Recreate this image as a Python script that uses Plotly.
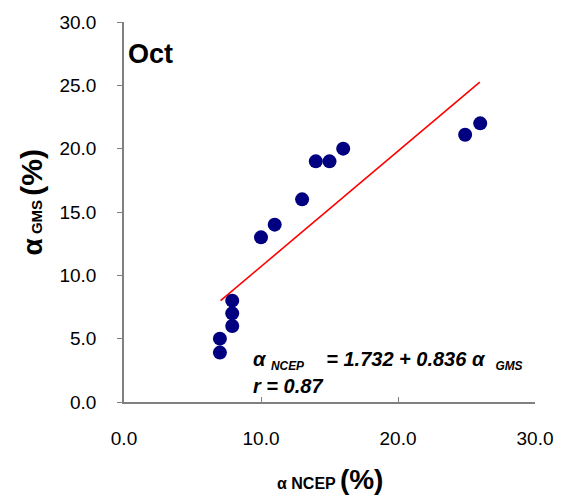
import plotly.graph_objects as go

# Data
alpha_ncep = [7.0, 7.0, 7.9, 7.9, 7.9, 10.0, 11.0, 13.0, 14.0, 15.0, 16.0, 24.9, 26.0]
alpha_gms = [3.9, 5.0, 8.0, 7.0, 6.0, 13.0, 14.0, 16.0, 19.0, 19.0, 20.0, 21.1, 22.0]

# Trend line end points (as drawn)
trend_x = [7.05, 25.97]
trend_y = [8.0, 25.26]

x_ticks = [0, 10, 20, 30]
y_ticks = [0, 5, 10, 15, 20, 25, 30]

FONT = "Liberation Sans, Arial, sans-serif"

fig = go.Figure()
fig.add_trace(go.Scatter(x=trend_x, y=trend_y, mode="lines",
                         line=dict(color="#ff0000", width=1.6), showlegend=False))
fig.add_trace(go.Scatter(x=alpha_ncep, y=alpha_gms, mode="markers",
                         marker=dict(color="#000080", size=14, line=dict(width=0)),
                         showlegend=False))

axis_common = dict(showgrid=False, zeroline=False, showline=True,
                   linecolor="#808080", linewidth=1.5, tickcolor="#808080",
                   ticklen=5, tickwidth=1, tickformat=".1f",
                   tickfont=dict(family=FONT, size=19, color="#000000"))

fig.update_xaxes(range=[0, 30], tickvals=x_ticks, ticks="inside",
                 ticklabelstandoff=18, **axis_common)
fig.update_yaxes(range=[0, 30], tickvals=y_ticks, ticks="outside",
                 ticklabelstandoff=17, **axis_common)

fig.update_layout(
    width=565, height=495,
    margin=dict(l=124, r=26, t=22, b=93),
    plot_bgcolor="white", paper_bgcolor="white",
    font=dict(family=FONT, color="#000000"),
    annotations=[
        dict(text="<b>Oct</b>", x=0.005, y=0.915, xref="paper", yref="paper",
             xanchor="left", yanchor="middle", showarrow=False,
             font=dict(size=27, family=FONT)),
        dict(text="<b><i>α <span style='font-size:17px'><sub>NCEP</sub></span>    = 1.732 + 0.836 α  <span style='font-size:17px'><sub>GMS</sub></span></i></b>",
             x=9.3, y=3.3, xref="x", yref="y", xanchor="left", yanchor="middle",
             showarrow=False, font=dict(size=20, family=FONT)),
        dict(text="<b><i>r = 0.87</i></b>",
             x=9.3, y=1.25, xref="x", yref="y", xanchor="left", yanchor="middle",
             showarrow=False, font=dict(size=20, family=FONT)),
        dict(text="<b>α NCEP <span style='font-size:28px'>(%)</span></b>",
             x=0.5, y=-0.205, xref="paper", yref="paper", xanchor="center",
             yanchor="middle", showarrow=False, font=dict(size=16, family=FONT)),
        dict(text="<b><span style='font-size:28px'>α</span> GMS <span style='font-size:30px'>(%)</span></b>",
             x=-0.224, y=0.525, xref="paper", yref="paper", xanchor="center",
             yanchor="middle", textangle=-90, showarrow=False,
             font=dict(size=15, family=FONT)),
    ],
)

fig.write_html("out.html", config={"displayModeBar": False},
               post_script="document.body.style.margin='0';document.body.style.padding='0';")
